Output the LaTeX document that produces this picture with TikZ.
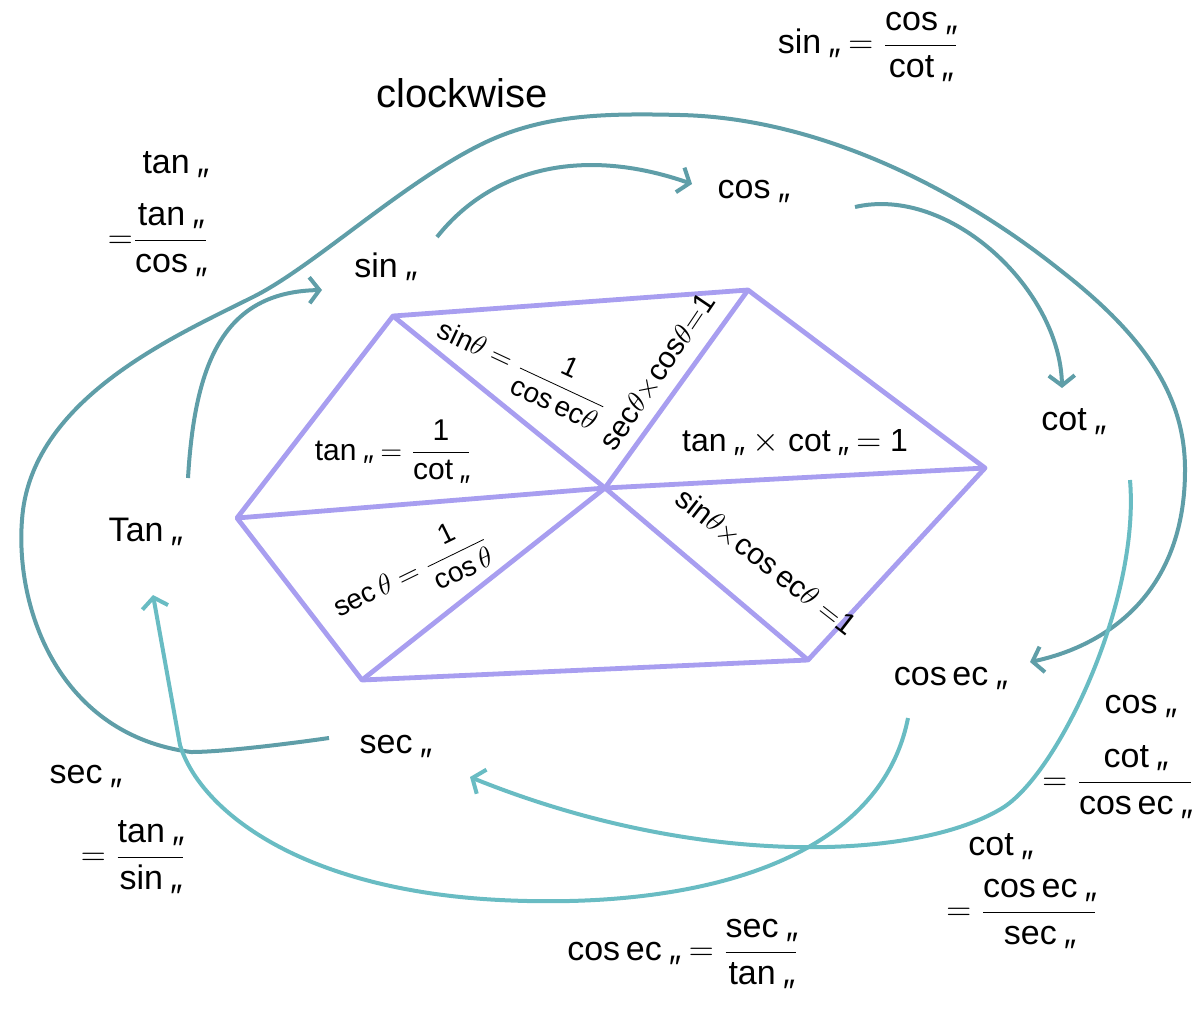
\documentclass[tikz,border=0pt]{standalone}
\usepackage{fontspec}
\setmainfont{Liberation Sans}
\usetikzlibrary{arrows.meta}

\definecolor{hexpurple}{RGB}{168,158,240}
\definecolor{arcteal}{RGB}{95,158,168}
\definecolor{arccyan}{RGB}{105,188,195}

\newcommand\tm{\,\raisebox{-0.55em}[0pt][0pt]{\itshape ″}}
\newcommand\fr[2]{$\displaystyle\frac{\mbox{#1}}{\mbox{#2}}$}

\begin{document}
\begin{tikzpicture}[x=0.5pt, y=-0.5pt,
    tlabel/.style={font=\fontsize{17}{20}\selectfont, inner sep=1pt},
    rel/.style={font=\fontsize{17}{20}\selectfont, inner sep=1pt},
    ident/.style={font=\fontsize{14}{16}\selectfont, inner sep=1pt},
    hexline/.style={draw=hexpurple, line width=2.4pt, line join=round},
    arrow/.style={draw=arcteal, line width=2pt,
        -{Straight Barb[length=5pt, width=13pt]}}
]
    \useasboundingbox (0,0) rectangle (1192,1012);

    % hexagon of the six ratios
    \coordinate (vsin) at (393,316);
    \coordinate (vcos) at (748,290);
    \coordinate (vcot) at (985,468);
    \coordinate (vcosec) at (808,660);
    \coordinate (vsec) at (362,680);
    \coordinate (vtan) at (237,518);
    \coordinate (vc) at (605,488);

    \draw[hexline] (vsin) -- (vcos) -- (vcot) -- (vcosec) -- (vsec)
        -- (vtan) -- cycle;
    \draw[hexline] (vsin) -- (vc) -- (vcosec);
    \draw[hexline] (vcos) -- (vc) -- (vsec);
    \draw[hexline] (vtan) -- (vc) -- (vcot);

    % identities inside
    \node[ident, rotate=-25] (isin) at (523,367)
        {sin$\theta$ $=$ \fr{1}{cos\,ec$\theta$}};
    \node[ident, font=\fontsize{15}{18}\selectfont, rotate=56] (isec)
        at (658,372) {sec$\theta\times$cos$\theta$$=$1};
    \node[ident, font=\fontsize{15}{18}\selectfont, rotate=-38] (icsc)
        at (766,562) {sin$\theta\times$cos\,ec$\theta$ $=$1};
    \node[ident, rotate=26] (icos) at (410,573)
        {sec\,$\theta$ $=$ \fr{1}{cos\,$\theta$}};
    \node[ident, font=\fontsize{15}{18}\selectfont] (itan) at (393,450)
        {tan\tm{} $=$ \fr{1}{cot\tm}};
    \node[ident, font=\fontsize{16}{19}\selectfont] (itc) at (795,442)
        {tan\tm{} $\times$ cot\tm{} $=$ 1};

    % the six ratios
    \node[tlabel] (lsin) at (385,265) {sin\tm};
    \node[tlabel] (lcos) at (753,190) {cos\tm};
    \node[tlabel] (lcot) at (1073,420) {cot\tm};
    \node[tlabel] (lcosec) at (950,677) {cos\,ec\tm};
    \node[tlabel] (lsec) at (395,745) {sec\tm};
    \node[tlabel] (ltan) at (145,530) {Tan\tm};

    \node[font=\fontsize{20}{24}\selectfont] (cw) at (462,93) {clockwise};

    % relations round the outside
    \node[rel] (rsin) at (868,45) {sin\tm{} $=$ \fr{cos\tm}{cot\tm}};
    \node[rel] (rtan1) at (175,163) {tan\tm};
    \node[rel] (rtan2) at (158,238) {$=$\fr{tan\tm}{cos\tm}};
    \node[rel] (rcos1) at (1140,705) {cos\tm};
    \node[rel] (rcos2) at (1118,780) {$=$ \fr{cot\tm}{cos\,ec\tm}};
    \node[rel] (rcot1) at (1000,845) {cot\tm};
    \node[rel] (rcot2) at (1022,912) {$=$ \fr{cos\,ec\tm}{sec\tm}};
    \node[rel] (rsec1) at (85,775) {sec\tm};
    \node[rel] (rsec2) at (133,855) {$=$ \fr{tan\tm}{sin\tm}};
    \node[rel] (rcsc) at (683,952) {cos\,ec\tm{} $=$ \fr{sec\tm}{tan\tm}};

    % arrows
    \coordinate (ts0) at (188,478);
    \coordinate (ts1) at (322,290);
    \draw[arrow] (ts0) .. controls (195,360) and (225,292) .. (ts1);

    \coordinate (sc0) at (437,237);
    \coordinate (sc1) at (692,184);
    \draw[arrow] (sc0) .. controls (490,170) and (580,145) .. (sc1);

    \coordinate (ct0) at (855,207);
    \coordinate (ct1) at (1062,388);
    \draw[arrow] (ct0) .. controls (950,185) and (1060,290) .. (ct1);

    \coordinate (oa0) at (329,738);
    \coordinate (oa1) at (1030,662);
    \draw[arrow] (oa0) .. controls (280,745) and (220,752) .. (191,752)
        .. controls (60,735) and (15,610) .. (22,520)
        .. controls (30,400) and (173,337) .. (253,297)
        .. controls (313,267) and (400,185) .. (480,145)
        .. controls (540,115) and (600,113) .. (680,115)
        .. controls (820,118) and (960,190) .. (1060,270)
        .. controls (1150,340) and (1185,400) .. (1185,470)
        .. controls (1185,590) and (1110,645) .. (oa1);

    \coordinate (cs0) at (1130,480);
    \coordinate (cs1) at (470,777);
    \draw[arrow, draw=arccyan] (cs0) .. controls (1140,600) and (1060,770)
        .. (1004,807) .. controls (920,860) and (700,870) .. (cs1);

    \coordinate (ca0) at (908,718);
    \coordinate (ca1) at (153,595);
    \draw[arrow, draw=arccyan] (ca0) .. controls (880,860) and (700,910)
        .. (500,900) .. controls (300,890) and (200,810) .. (180,745)
        -- (ca1);
\end{tikzpicture}
\end{document}
